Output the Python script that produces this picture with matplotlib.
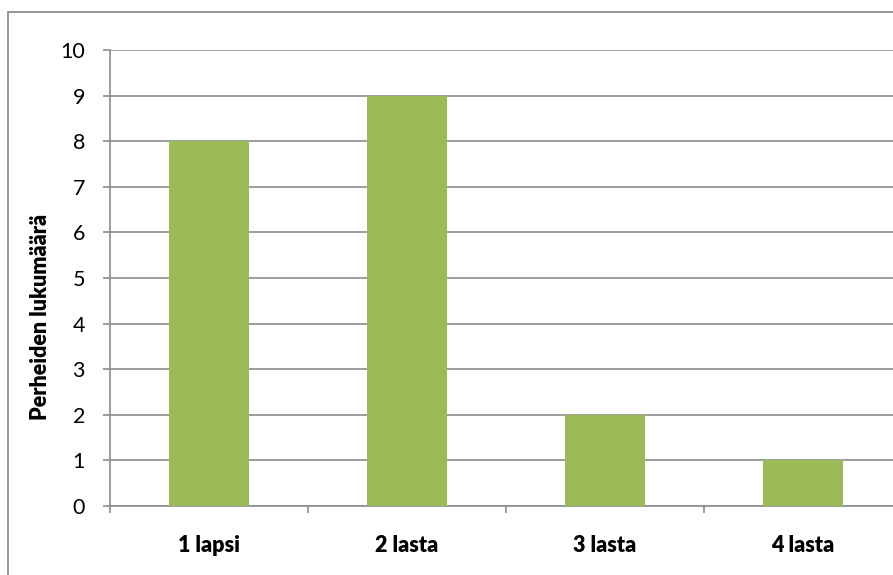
import matplotlib
matplotlib.use("Agg")
import matplotlib.pyplot as plt
from matplotlib.patches import Rectangle

categories = ["1 lapsi", "2 lasta", "3 lasta", "4 lasta"]
values = [8, 9, 2, 1]
yticks = list(range(0, 11))
ylabel = "Perheiden lukumäärä"

W, H = 893, 575
fig = plt.figure(figsize=(W / 100, H / 100), dpi=100)
plt.rcParams['font.family'] = ['Lato', 'DejaVu Sans']

# outer chart border (right/bottom cut off)
fig.patches.append(Rectangle((8 / W, -0.1), 1.2, 1 - 12 / H + 0.1, transform=fig.transFigure,
                             fill=False, edgecolor="#8c8c8c", linewidth=1.3))

left, right, bottom, top = 110, 902, 506, 50
ax = fig.add_axes([left / W, 1 - bottom / H, (right - left) / W, (bottom - top) / H])
x = list(range(len(categories)))
ax.bar(x, values, width=0.4, color="#9BBB59", zorder=3)
ax.set_xlim(-0.5, len(categories) - 0.5)
ax.set_ylim(0, 10)
ax.set_yticks(yticks)
ax.set_yticklabels([str(t) for t in yticks], fontsize=15.5)
ax.yaxis.grid(True, color="#8c8c8c", linewidth=1.2, zorder=0)
ax.set_axisbelow(True)
for s in ["top", "right"]:
    ax.spines[s].set_visible(False)
for s in ["left", "bottom"]:
    ax.spines[s].set_color("#8c8c8c")
    ax.spines[s].set_linewidth(1.2)
ax.tick_params(axis="y", length=5, width=1.2, color="#8c8c8c", pad=13, labelcolor="black")
ax.set_xticks([i - 0.5 for i in range(len(categories) + 1)])
ax.set_xticklabels([])
ax.set_xticks(x, minor=True)
ax.set_xticklabels(categories, minor=True, fontsize=15.5, fontweight="heavy")
ax.tick_params(axis="x", which="major", length=5, width=1.2, color="#8c8c8c")
ax.tick_params(axis="x", which="minor", length=0, pad=21)
fig.text(41 / W, 1 - 317 / H, ylabel, rotation=90, ha="center", va="center",
         fontsize=15.5, fontweight="heavy")
fig.savefig("out.png", dpi=100)
